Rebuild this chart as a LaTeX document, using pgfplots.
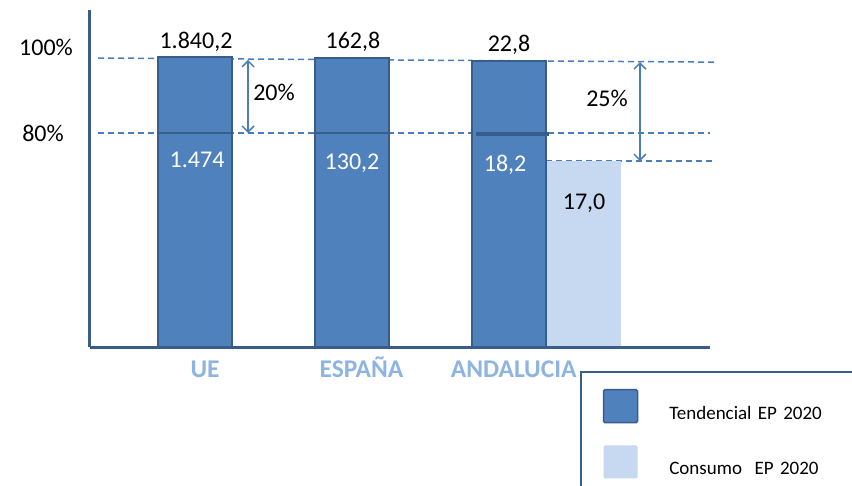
\documentclass[border=0pt]{standalone}
\usepackage{fontspec}
\setmainfont{Carlito}
\usepackage{pgfplots}
\pgfplotsset{compat=1.18}
\usetikzlibrary{arrows.meta}
\definecolor{tend}{HTML}{4F81BD}
\definecolor{tenddark}{HTML}{385D8A}
\definecolor{cons}{HTML}{C6D9F1}
\definecolor{xlab}{HTML}{8DB4E2}
\definecolor{dsh}{HTML}{4A7EBB}
\newcommand\lbl{\fontsize{24}{28}\selectfont}
\begin{document}
\begin{tikzpicture}
\begin{axis}[
  at={(90pt,138pt)}, anchor=south west,
  scale only axis, width=620pt, height=337pt,
  xmin=-0.669, xmax=3.280, ymin=22.93, ymax=112.8,
  axis x line*=bottom, axis y line*=left,
  axis line style={draw=tenddark, line width=3pt, -},
  ytick=\empty,
  xtick={0.064,1.06,2.03}, xticklabels={UE,ESPAÑA,ANDALUCIA},
  xticklabel style={font=\fontsize{25.5}{28}\selectfont\bfseries, text=xlab, anchor=base, yshift=-30pt},
  major tick length=0pt,
  clip mode=individual,
  axis on top,
  ybar, bar width=74pt,
  legend cell align=left,
  legend style={at={(axis description cs:0.790,-0.0712)}, anchor=north west,
    draw=tenddark, line width=2pt, inner xsep=22pt, inner ysep=17pt,
    row sep=22pt, font=\fontsize{19}{22}\selectfont,
    nodes={text width=250pt, inner sep=0pt},
    /tikz/every odd column/.append style={column sep=31pt}},
]
% dashed reference lines
\draw[dsh, line width=1.5pt, dash pattern=on 6pt off 4pt] (axis cs:-0.618,100) -- (axis cs:3.31,98.9);
\draw[dsh, line width=1.5pt, dash pattern=on 6pt off 4pt] (axis cs:-0.618,80) -- (axis cs:3.28,80);
\draw[dsh, line width=1.5pt, dash pattern=on 6pt off 4pt] (axis cs:2.236,72.5) -- (axis cs:3.30,72.5);

\addplot[fill=tend, draw=tenddark, line width=2pt, bar shift=0pt,
  legend image code/.code={\draw[fill=tend,draw=tenddark,line width=1.5pt,rounded corners=1.5pt] (0pt,-9.5pt) rectangle (34pt,23.5pt);}]
  coordinates {(0,100.3) (1,100) (2,99.2)};
\addlegendentry{Tendencial EP 2020}
\addplot[fill=cons, draw=none, bar shift=0pt,
  legend image code/.code={\fill[cons,rounded corners=1.5pt] (0pt,-9.5pt) rectangle (34pt,23.5pt);}]
  coordinates {(2.478,72.5)};
\addlegendentry{Consumo\ \ EP 2020}

% dark segments at 80%
\draw[tenddark, line width=2pt] (axis cs:-0.236,80) -- (axis cs:0.236,80);
\draw[tenddark, line width=1.5pt] (axis cs:0.77,80) -- (axis cs:1.24,80);
\draw[tenddark, line width=3.5pt] (axis cs:1.79,79.7) -- (axis cs:2.255,79.7);

% arrows
\draw[{Straight Barb[length=6pt,width=12pt]}-{Straight Barb[length=6pt,width=12pt]}, dsh, line width=1.5pt] (axis cs:0.338,99.5) -- (axis cs:0.338,80);
\draw[{Straight Barb[length=6pt,width=12pt]}-{Straight Barb[length=6pt,width=12pt]}, dsh, line width=1.5pt] (axis cs:2.834,98.9) -- (axis cs:2.834,72.5);

% labels
\node[font=\lbl] at (axis cs:0.006,104.3) {1.840,2};
\node[font=\lbl] at (axis cs:1.006,104.3) {162,8};
\node[font=\lbl] at (axis cs:2.0,103.5) {22,8};
\node[font=\lbl, text=white] at (axis cs:0.013,72.8) {1.474};
\node[font=\lbl, text=white] at (axis cs:1.0,72.0) {130,2};
\node[font=\lbl, text=white] at (axis cs:1.975,71.5) {18,2};
\node[font=\lbl] at (axis cs:2.478,61.3) {17,0};
\node[font=\lbl] at (axis cs:0.503,90.7) {20\%};
\node[font=\lbl] at (axis cs:2.624,89.3) {25\%};
\node[font=\lbl] at (axis cs:-0.949,102.9) {100\%};
\node[font=\lbl] at (axis cs:-0.968,80) {80\%};
\end{axis}
\pgfresetboundingbox
\path[use as bounding box] (0,0) rectangle (852pt,485pt);
\end{tikzpicture}
\end{document}
